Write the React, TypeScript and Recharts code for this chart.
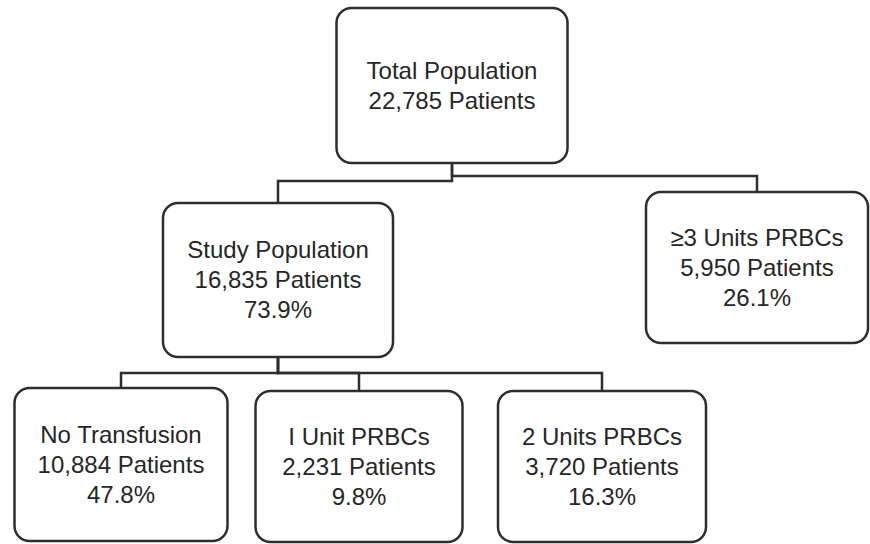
import React from 'react';
import { ScatterChart, Scatter, XAxis, YAxis } from 'recharts';

// Flowchart content
const nodeIds = ['total', 'study', 'threePlus', 'none', 'oneUnit', 'twoUnits'];
const nodeTitles = [
  'Total Population',
  'Study Population',
  '≥3 Units PRBCs',
  'No Transfusion',
  'I Unit PRBCs',
  '2 Units PRBCs'
];
const nodePatients = [22785, 16835, 5950, 10884, 2231, 3720];
const nodeShares: (number | null)[] = [null, 73.9, 26.1, 47.8, 9.8, 16.3];
const nodeParents: (string | null)[] = [null, 'total', 'total', 'study', 'study', 'study'];

// Layout (chart units map 1:1 to pixels)
const W = 870;
const H = 544;
const boxLayout: { [key: string]: { x: number; top: number; w: number; h: number } } = {
  total: { x: 452, top: 8, w: 231, h: 155 },
  study: { x: 278, top: 203, w: 230, h: 154 },
  threePlus: { x: 757, top: 192, w: 222, h: 151 },
  none: { x: 121, top: 388, w: 213, h: 153 },
  oneUnit: { x: 359, top: 391, w: 207, h: 151 },
  twoUnits: { x: 602, top: 391, w: 208, h: 151 }
};
const elbowY: { [key: string]: number } = {
  study: 181,
  threePlus: 176,
  none: 373,
  oneUnit: 373,
  twoUnits: 373
};

const STROKE = '#2e2e2e';
const FONT = '"Liberation Sans", Arial, sans-serif';
const FONT_SIZE = 24;
const LINE_GAP = 30;

const nodes = nodeIds.map((id, i) => {
  const l = boxLayout[id];
  const lines = [nodeTitles[i], `${nodePatients[i].toLocaleString('en-US')} Patients`];
  if (nodeShares[i] !== null) lines.push(`${(nodeShares[i] as number).toFixed(1)}%`);
  return { id, x: l.x, y: l.top + l.h / 2, w: l.w, h: l.h, lines };
});

const edges = nodeIds
  .map((id, i) => {
    const parent = nodeParents[i];
    if (!parent) return null;
    const p = boxLayout[parent];
    const c = boxLayout[id];
    const my = elbowY[id];
    return {
      id,
      points: [
        { x: p.x, y: p.top + p.h },
        { x: p.x, y: my },
        { x: c.x, y: my },
        { x: c.x, y: c.top }
      ]
    };
  })
  .filter(Boolean) as { id: string; points: { x: number; y: number }[] }[];

const NodeBox = (props: any) => {
  const { cx, cy, payload } = props;
  if (cx == null || cy == null || !payload) return <g />;
  const { w, h, lines } = payload;
  const n = lines.length;
  return (
    <g>
      <rect
        x={cx - w / 2}
        y={cy - h / 2}
        width={w}
        height={h}
        rx={15}
        ry={15}
        fill="#ffffff"
        stroke={STROKE}
        strokeWidth={2.5}
      />
      {lines.map((t: string, i: number) => (
        <text
          key={i}
          x={cx}
          y={cy + (i - (n - 1) / 2) * LINE_GAP}
          dy="0.35em"
          textAnchor="middle"
          fontFamily={FONT}
          fontSize={FONT_SIZE}
          fill="#262626"
        >
          {t}
        </text>
      ))}
    </g>
  );
};

const Empty = () => <g />;

export default function App() {
  return (
    <div style={{ position: 'absolute', left: 0, top: 0, width: W, height: H, background: '#fff' }}>
      <ScatterChart width={W} height={H} margin={{ top: 0, right: 0, bottom: 0, left: 0 }}>
        <XAxis type="number" dataKey="x" domain={[0, W]} allowDataOverflow hide />
        <YAxis type="number" dataKey="y" domain={[0, H]} allowDataOverflow reversed hide />
        {edges.map((e) => (
          <Scatter
            key={e.id}
            data={e.points}
            line={{ stroke: STROKE, strokeWidth: 2.5 }}
            lineType="joint"
            shape={<Empty />}
            isAnimationActive={false}
          />
        ))}
        <Scatter data={nodes} shape={<NodeBox />} isAnimationActive={false} />
      </ScatterChart>
    </div>
  );
}
